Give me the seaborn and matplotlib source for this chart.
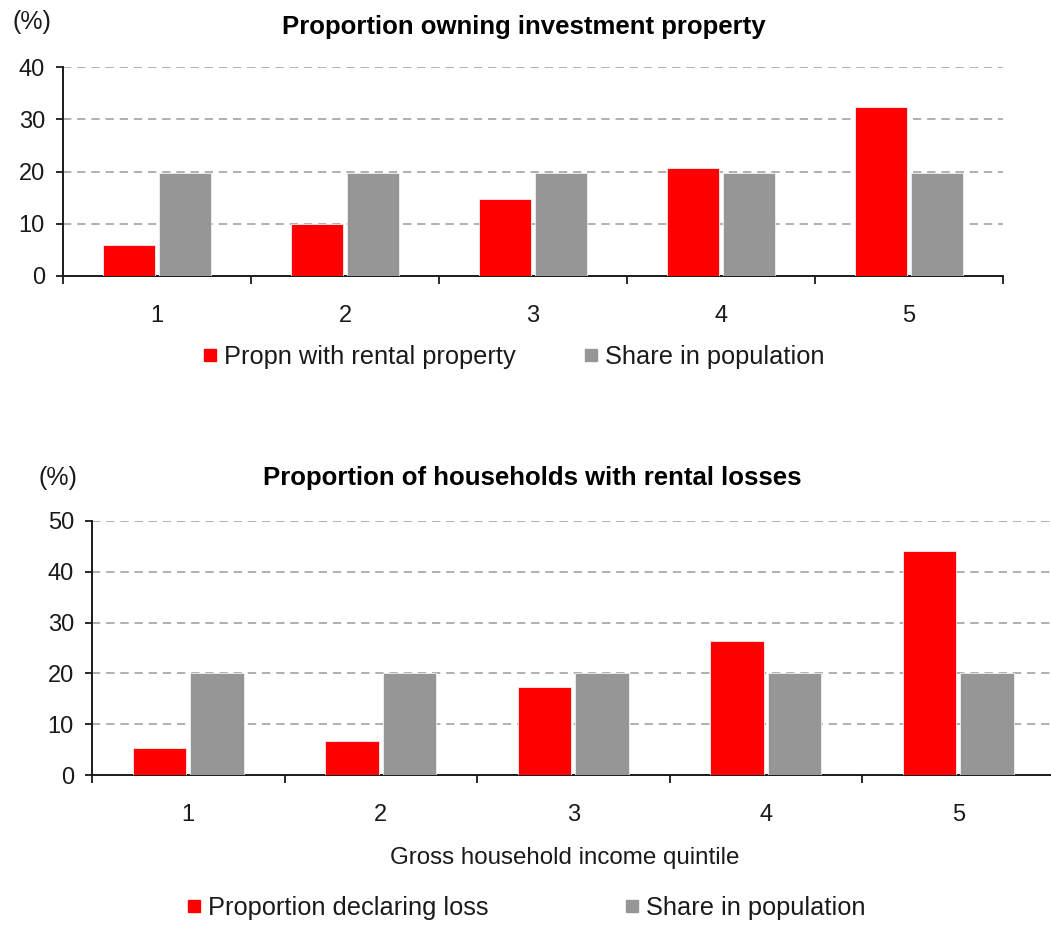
import matplotlib

matplotlib.use("Agg")

import matplotlib.pyplot as plt
import numpy as np
import pandas as pd
import seaborn as sns
from matplotlib.lines import Line2D

quintiles = ["1", "2", "3", "4", "5"]
rental_share = [5.9, 10.0, 14.8, 20.6, 32.4]
loss_share = [5.4, 6.8, 17.3, 26.4, 44.1]
pop_share_top = [19.8, 19.8, 19.8, 19.8, 19.8]
pop_share_bottom = [20.0, 20.0, 20.0, 20.0, 20.0]

RED = "#ff0000"
GREY = "#969696"
INK = "#1a1a1a"

sns.set_style("white")
plt.rcParams["font.family"] = ["Liberation Sans", "DejaVu Sans"]


def _frame(first, second, first_name, second_name):
    return pd.DataFrame(
        {
            "quintile": quintiles * 2,
            "value": list(first) + list(second),
            "series": [first_name] * 5 + [second_name] * 5,
        }
    )


def _draw(ax, df, names, ymax):
    sns.barplot(
        data=df, x="quintile", y="value", hue="series", hue_order=names,
        palette=[RED, GREY], saturation=1, width=0.6, gap=0.07, edgecolor="#f0f0f0",
        linewidth=0.6, ax=ax, legend=False, zorder=3,
    )
    ax.set_xlim(-0.5, 4.5)
    ax.set_ylim(0, ymax)
    ax.set_yticks(np.arange(0, ymax + 1, 10))
    ax.yaxis.grid(True, color="#a3a3a3", lw=1.2, ls=(0, (5, 3.5)), zorder=0)
    ax.get_ygridlines()[0].set_visible(False)
    ax.set_xticks(np.arange(-0.5, 5, 1), minor=True)
    ax.tick_params(axis="x", which="major", bottom=True, length=0, pad=21, labelsize=17,
                   labelcolor=INK)
    ax.tick_params(axis="x", which="minor", bottom=True, length=6, width=1.3,
                   direction="out", color=INK)
    ax.tick_params(axis="y", left=True, length=5, width=1.3, direction="out", pad=8,
                   labelsize=17, color=INK, labelcolor=INK)
    for side in ["top", "right"]:
        ax.spines[side].set_visible(False)
    for side in ["left", "bottom"]:
        ax.spines[side].set_color(INK)
        ax.spines[side].set_linewidth(1.4)
    ax.set_xlabel("")
    ax.set_ylabel("")


fig = plt.figure(figsize=(10.51, 9.27), dpi=100)
ax1 = fig.add_axes([63 / 1051, 1 - 276 / 927, 940 / 1051, 209 / 927])
ax2 = fig.add_axes([92 / 1051, 1 - 775.3 / 927, 962.5 / 1051, 254.6 / 927])

top_names = ["Propn with rental property", "Share in population"]
bottom_names = ["Proportion declaring loss", "Share in population"]
_draw(ax1, _frame(rental_share, pop_share_top, *top_names), top_names, 40)
_draw(ax2, _frame(loss_share, pop_share_bottom, *bottom_names), bottom_names, 50)

fig.text(524, 927 - 27, "Proportion owning investment property", transform=None,
         ha="center", va="center", fontsize=18.5, fontweight="bold", color="#000000")
fig.text(532, 927 - 478, "Proportion of households with rental losses", transform=None,
         ha="center", va="center", fontsize=18.5, fontweight="bold", color="#000000")
fig.text(32, 927 - 22, "(%)", transform=None, ha="center", va="center", fontsize=18, color=INK)
fig.text(58, 927 - 478, "(%)", transform=None, ha="center", va="center", fontsize=18, color=INK)
fig.text(565, 927 - 858, "Gross household income quintile", transform=None,
         ha="center", va="center", fontsize=17.4, color=INK)


def _legend(names, x, y, spacing):
    handles = [
        Line2D([], [], marker="s", ls="", markersize=9, markerfacecolor=c, markeredgecolor=c)
        for c in (RED, GREY)
    ]
    return fig.legend(handles, names, loc="center", bbox_to_anchor=(x / 1051, 1 - y / 927),
                      ncol=2, frameon=False, fontsize=18.3, handlelength=0.5,
                      handletextpad=0.3, columnspacing=spacing, labelcolor=INK)


_legend(top_names, 514, 357, 2.7)
_legend(bottom_names, 527, 908, 5.4)

fig.savefig("out.png", dpi=100)
